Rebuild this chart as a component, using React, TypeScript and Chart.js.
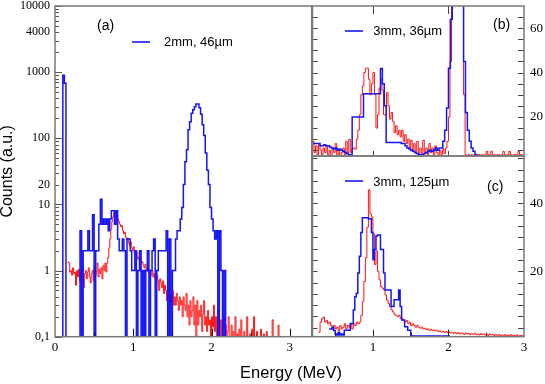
import React, { useEffect, useRef } from 'react';
import { Chart, registerables } from 'chart.js';

Chart.register(...registerables);

const SERIF = '"Liberation Serif", "Times New Roman", serif';
const SANS = '"Liberation Sans", Arial, Helvetica, sans-serif';
const BLUE = 'rgb(20,20,250)';
const RED = 'rgb(255,20,20)';

// ---------------- Panel (a): 2mm, 46µm (log scale) ----------------
const A_BLUE_START = 0;
const A_BLUE_BIN = 0.02;
const aBlue = [
  0, 0, 0, 0, 0, 900, 680, 0, 0, 0,
  0, 0, 0, 0, 0, 0, 4, 0, 2, 2,
  2, 4, 2, 2, 7, 0, 2, 2, 5, 12,
  5, 6, 5, 6, 4, 6, 8, 8, 5, 8,
  3, 2, 2, 3, 2, 0, 3, 3, 2, 1,
  1, 2, 0, 1, 2, 0, 1, 0, 1, 2,
  0, 1, 2, 3, 0, 1, 2, 2, 2, 2,
  2, 4, 0, 3, 0, 1, 1, 3, 4, 4,
  6, 9, 20, 44, 67, 134, 178, 240, 270, 300,
  331, 331, 290, 230, 160, 110, 60, 33, 20, 9,
  6, 4, 3, 4, 0, 4, 1, 0, 1, 0,
];
const A_RED_START = 0.1625;
const A_RED_BIN = 0.0125;
const aRed = [
  1.35, 1.3, 0.95, 1.0, 0.85, 1.1, 0.9, 0.95, 0.6, 1.0,
  0.8, 1.05, 0.7, 0.95, 1.2, 0.85, 0.55, 0.9, 1.0, 0.75,
  0.95, 1.1, 0.8, 0.65, 0.9, 1.0, 0.7, 1.15, 0.85, 0.95,
  1.3, 0.8, 1.05, 0.9, 1.1, 0.75, 1.2, 1.0, 1.3, 0.95,
  1.3, 1.6, 2.2, 3.0, 4.2, 5.5, 6.5, 7.5, 7.8, 7.6,
  7.0, 6.0, 5.5, 5.0, 4.6, 4.8, 4.0, 3.6, 3.8, 3.2,
  2.9, 3.1, 2.6, 2.4, 2.7, 2.2, 2.0, 2.3, 1.8, 1.7,
  1.9, 1.5, 1.6, 1.4, 1.5, 1.3, 1.35, 1.2, 1.1, 1.25,
  1.0, 1.1, 0.95, 1.05, 0.9, 0.85, 1.0, 0.8, 0.9, 0.75,
  0.6, 0.85, 0.7, 0.5, 0.75, 0.65, 0.55, 0.7, 0.45, 0.6,
  0.5, 0.35, 0.55, 0.4, 0.3, 0.45, 0.35, 0.5, 0.3, 0.4,
  0.3, 0.45, 0.35, 0.25, 0.4, 0.3, 0.35, 0.2, 0.4, 0.3,
  0.25, 0.45, 0.2, 0.3, 0.15, 0.35, 0.2, 0.25, 0.4, 0.15,
  0.3, 0, 0.35, 0.15, 0.25, 0.2, 0.3, 0.12, 0.22, 0.35,
  0.15, 0.2, 0.12, 0.25, 0.15, 0.18, 0, 0.2, 0.14, 0.3,
  0.12, 0.2, 0, 0.25, 0.15, 0, 0.18, 0, 0.13, 0.2,
  0, 0.15, 0, 0.12, 0.2, 0, 0, 0.15, 0, 0.12,
  0, 0.2, 0, 0.11, 0, 0.13, 0, 0.18, 0, 0,
  0.12, 0, 0, 0.2, 0, 0, 0.11, 0, 0.13, 0,
  0.2, 0, 0, 0.12, 0, 0, 0, 0.13, 0, 0,
  0.11, 0, 0, 0.12, 0, 0, 0, 0, 0, 0.18,
  0, 0, 0, 0, 0, 0.15, 0, 0, 0, 0,
];
const A_ZERO = 0.05; // empty bins fall below the 0,1 floor
const aXTicks = [0, 1, 2, 3];
const aYTicks = [0.1, 1, 10, 20, 100, 1000, 4000, 10000];
const aYLabels = ['0,1', '1', '10', '20', '100', '1000', '4000', '10000'];

// ---------------- Panel (b): 3mm, 36µm ----------------
const B_BLUE_START = 0.2;
const B_BLUE_BIN = 0.025;
const bBlue = [
  8, 8, 8, 8, 7, 7, 7.5, 7, 7, 6.5,
  6, 5.5, 6, 5, 5.5, 5, 4.5, 4, 3.5, 3,
  3, 20, 20, 20, 20, 20, 20, 30.5, 30.5, 30.5,
  30.5, 30.5, 30.5, 30.5, 30.5, 30.5, 41.8, 35, 25, 8.5,
  8.5, 8.5, 8.5, 8.5, 8.5, 8.5, 8.5, 8, 8, 7,
  6, 5.5, 5, 4.5, 4, 3.5, 3, 3, 3, 3.5,
  4, 4.5, 5, 4.5, 5, 6, 5, 6, 6, 9,
  14, 24, 42, 64, 110, 150, 170, 160, 140, 95,
  45, 22, 14, 9, 6, 4.5, 3, 2.5, 2, 2,
];
const B_RED_START = 0.2;
const B_RED_BIN = 0.02;
const bRed = [
  9, 4, 7, 3, 8, 5, 3, 6, 4, 7,
  3, 5, 2.5, 6, 4, 8, 3, 5, 2.5, 4,
  6, 3, 9, 4, 10, 4, 5.5, 6, 5.5, 10,
  14, 21, 30, 34, 40, 42, 42, 37, 30, 35,
  40, 30, 15, 21, 33, 37, 32, 21, 21, 31,
  25, 19, 22, 18, 13, 16, 12, 14, 11, 14,
  9, 12, 8, 10, 6, 9.5, 5, 8, 4.5, 9,
  3.5, 6, 3, 9.5, 4, 6, 3, 8, 4, 6,
  3, 7, 4, 3, 5, 3, 5.5, 3.5, 6, 9,
  20, 45, 90, 140, 170, 170, 150, 120, 100, 80,
  30, 3, 2.5, 3, 2, 3, 2.5, 3, 2, 3,
  3, 2, 3, 2.5, 3, 4.5, 3, 2, 4.5, 3,
  3, 2, 3, 3, 2, 3, 4.5, 3, 2, 3,
  4.5, 3, 2, 3, 3, 2, 4.5, 3, 3, 2,
];
const bYTicks = [20, 40, 60];

// ---------------- Panel (c): 3mm, 125µm ----------------
const C_BLUE_START = 0.42;
const C_BLUE_BIN = 0.02;
const cBlue = [
  3, 3, 3.5, 2.5,
  1.5, 1.2, 2, 1.2, 1.5, 1.2, 2.6, 2.6, 2.6, 2.6,
  4.6, 4.6, 8.6, 12.5, 13.5, 19.5, 24.4, 31.4, 35.8, 35.8,
  35.8, 35.8, 35.5, 35.5, 31.4, 23.4, 26.4, 30.4, 30.7, 30.7,
  26.4, 26.4, 19.5, 14.5, 14.5, 14.5, 14.5, 9.6, 9.6, 11.6,
  11.6, 11.6, 14.5, 9.6, 5.6, 5.6, 3.6, 3.6, 2.6, 2.6,
  0.9, 0.9, 0.9, 0.9, 0.9, 0.9, 0.9, 0.9, 0.9, 0.9,
  0.9, 0.9, 0.9, 0.9, 0.9, 0.9, 0.9, 0.9, 0.9, 0.9,
  0.9, 0.9, 0.9, 0.9, 0.9, 0.9,
];
const C_RED_START = 0.28;
const C_RED_BIN = 0.02;
const cRed = [
  2,
  5, 6, 6.5, 5, 5.5,
  4.5, 5, 4, 3.5, 4,
  3, 3.5, 2.5, 4, 3,
  3.5, 4.5, 3, 4, 3.5,
  4.5, 3, 4.5, 4, 5,
  4.5, 5, 7, 11, 17,
  24, 33, 44, 37, 36,
  31, 22, 26, 20, 17.5,
  15.5, 15, 14.5, 13, 11.5,
  10.5, 9.5, 8.6, 8, 7.2,
  7, 6.6, 7, 6.1, 6,
  5.5, 5, 5.5, 4.6, 5,
  4, 4.5, 4, 3.5, 4,
  3.5, 3.2, 3.5, 3, 3.2,
  2.8, 3, 2.6, 2.9, 2.5,
  2.7, 2.4, 2.6, 2.2, 2.4,
  2.1, 2.3, 2.0, 2.2, 1.9,
  2.1, 1.8, 2.0, 1.7, 1.9,
  1.6, 1.9, 1.5, 1.8, 1.6,
  1.4, 1.8, 1.5, 1.7, 1.3,
  1.6, 1.4, 1.7, 1.3, 1.5,
  1.2, 1.6, 1.3, 1.5, 1.2,
  1.4, 1.1, 1.5, 1.2, 1.4,
  1.0, 1.3, 1.1, 1.4, 1.0,
  1.2, 0.9, 1.3, 1.0, 1.2,
  0.9, 1.3, 1.0, 1.1, 0.9,
  1.2, 0.8, 1.1, 1.0, 1.1,
];
const cXTicks = [1, 2, 3];
const cYTicks = [20, 40];

// ---------------- axis decoration (tick marks) ----------------
const aLogMajor = [0.1, 1, 10, 100, 1000, 10000];
const aLogMinor: number[] = [];
[0.1, 1, 10, 100, 1000].forEach((d) => { for (let k = 2; k <= 9; k++) aLogMinor.push(d * k); });
const aXMajor = [1, 2, 3];
const aXMinor = [0.5, 1.5, 2.5];
const bYMinor: number[] = [];
for (let v = 5; v <= 65; v += 5) bYMinor.push(v);
const cYMinor: number[] = [];
for (let k = 1; k <= 16; k++) cYMinor.push((k * 10) / 3);

function toHist(start: number, bin: number, vals: number[], zero: number) {
  const pts = vals.map((v, i) => ({ x: start + i * bin, y: v > 0 ? v : zero }));
  pts.push({ x: start + vals.length * bin, y: pts[pts.length - 1].y });
  return pts;
}

type TickSpec = { scale: 'x' | 'y'; side: 'left' | 'right' | 'top' | 'bottom'; values: number[]; len: number; color: string };

function framePlugin(specs: TickSpec[]) {
  return {
    id: 'frameTicks',
    afterDatasetsDraw(chart: any) {
      const { ctx, chartArea } = chart;
      const { left, right, top, bottom } = chartArea;
      ctx.save();
      ctx.lineWidth = 1;
      for (const s of specs) {
        const sc = chart.scales[s.scale];
        ctx.strokeStyle = s.color;
        ctx.beginPath();
        for (const v of s.values) {
          const p = Math.round(sc.getPixelForValue(v)) + 0.5;
          if (s.side === 'left') { ctx.moveTo(left, p); ctx.lineTo(left + s.len, p); }
          if (s.side === 'right') { ctx.moveTo(right, p); ctx.lineTo(right - s.len, p); }
          if (s.side === 'top') { ctx.moveTo(p, top); ctx.lineTo(p, top + s.len); }
          if (s.side === 'bottom') { ctx.moveTo(p, bottom); ctx.lineTo(p, bottom - s.len); }
        }
        ctx.stroke();
      }
      ctx.lineWidth = 1.5;
      ctx.strokeStyle = '#7a7a7a';
      ctx.strokeRect(left, top, right - left, bottom - top);
      ctx.restore();
    },
  };
}

const tickFont = (size: number) => ({ family: SERIF, size });

function lineDs(data: any[], color: string, width: number) {
  return {
    data,
    borderColor: color,
    borderWidth: width,
    stepped: true as const,
    pointRadius: 0,
    fill: false,
    tension: 0,
  };
}

function baseOptions(padding: any) {
  return {
    responsive: false,
    animation: false as const,
    events: [] as any[],
    layout: { autoPadding: false, padding },
    plugins: { legend: { display: false }, tooltip: { enabled: false } },
  };
}

function zeroPad(s: any) {
  s.paddingTop = 0; s.paddingBottom = 0; s.paddingLeft = 0; s.paddingRight = 0;
}

function configA(): any {
  return {
    type: 'line',
    data: {
      datasets: [
        lineDs(toHist(A_BLUE_START, A_BLUE_BIN, aBlue, A_ZERO), BLUE, 1.5),
        lineDs(toHist(A_RED_START, A_RED_BIN, aRed, A_ZERO), RED, 1),
      ],
    },
    options: {
      ...baseOptions({ left: 0, top: 6, right: 233.3, bottom: 0 }),
      scales: {
        x: {
          type: 'linear', min: 0, max: 3.28,
          afterBuildTicks: (s: any) => { s.ticks = aXTicks.map((v) => ({ value: v })); },
          afterFit: (s: any) => { s.height = 47.3; zeroPad(s); },
          grid: { display: false, drawTicks: false },
          border: { display: false },
          ticks: { font: tickFont(13), color: '#000', padding: 3, maxRotation: 0, autoSkip: false, callback: (v: any) => String(v) },
        },
        y: {
          type: 'logarithmic', min: 0.1, max: 10000,
          afterBuildTicks: (s: any) => { s.ticks = aYTicks.map((v) => ({ value: v })); },
          afterFit: (s: any) => { s.width = 55; zeroPad(s); },
          grid: { display: false, drawTicks: false },
          border: { display: false },
          ticks: { font: tickFont(12), color: '#000', padding: 5, autoSkip: false, callback: (_v: any, i: number) => aYLabels[i] },
          title: { display: true, text: 'Counts (a.u.)', color: '#000', font: { family: SANS, size: 16, lineHeight: 1 }, padding: 0 },
        },
      },
    },
    plugins: [framePlugin([
      { scale: 'y', side: 'left', values: aLogMajor, len: 7, color: '#555' },
      { scale: 'y', side: 'left', values: aLogMinor, len: 4, color: '#555' },
      { scale: 'x', side: 'bottom', values: aXMajor, len: 8, color: '#111' },
      { scale: 'x', side: 'bottom', values: aXMinor, len: 4, color: '#111' },
    ])],
  };
}

function configB(): any {
  return {
    type: 'line',
    data: {
      datasets: [
        lineDs(toHist(B_BLUE_START, B_BLUE_BIN, bBlue, 0), BLUE, 1.5),
        lineDs(toHist(B_RED_START, B_RED_BIN, bRed, 0), RED, 1),
      ],
    },
    options: {
      ...baseOptions({ left: 312.5, top: 6, right: 0, bottom: 228 }),
      scales: {
        x: { type: 'linear', min: 0.2, max: 3.0, display: false },
        y: {
          type: 'linear', position: 'right', min: 2.4, max: 70,
          afterBuildTicks: (s: any) => { s.ticks = bYTicks.map((v) => ({ value: v })); },
          afterFit: (s: any) => { s.width = 21; zeroPad(s); },
          grid: { display: false, drawTicks: false },
          border: { display: false },
          ticks: { font: tickFont(13), color: '#000', padding: 6, autoSkip: false },
        },
      },
    },
    plugins: [framePlugin([
      { scale: 'y', side: 'left', values: bYMinor, len: 5, color: '#444' },
      { scale: 'y', side: 'right', values: bYMinor, len: 6, color: '#444' },
      { scale: 'x', side: 'top', values: [1, 2], len: 8, color: '#444' },
      { scale: 'x', side: 'bottom', values: [1, 2], len: 5, color: '#444' },
    ])],
  };
}

function configC(): any {
  return {
    type: 'line',
    data: {
      datasets: [
        lineDs(toHist(C_BLUE_START, C_BLUE_BIN, cBlue, 0), BLUE, 1.5),
        lineDs(toHist(C_RED_START, C_RED_BIN, cRed, 0), RED, 1),
      ],
    },
    options: {
      ...baseOptions({ left: 312.5, top: 156, right: 0, bottom: 0 }),
      scales: {
        x: {
          type: 'linear', min: 0.2, max: 3.0,
          afterBuildTicks: (s: any) => { s.ticks = cXTicks.map((v) => ({ value: v })); },
          afterFit: (s: any) => { s.height = 47.3; zeroPad(s); },
          grid: { display: false, drawTicks: false },
          border: { display: false },
          ticks: { font: tickFont(13), color: '#000', padding: 3, maxRotation: 0, autoSkip: false, callback: (v: any) => String(v) },
        },
        y: {
          type: 'linear', position: 'right', min: 0.7, max: 54,
          afterBuildTicks: (s: any) => { s.ticks = cYTicks.map((v) => ({ value: v })); },
          afterFit: (s: any) => { s.width = 21; zeroPad(s); },
          grid: { display: false, drawTicks: false },
          border: { display: false },
          ticks: { font: tickFont(13), color: '#000', padding: 6, autoSkip: false },
        },
      },
    },
    plugins: [framePlugin([
      { scale: 'y', side: 'left', values: cYMinor, len: 5, color: '#444' },
      { scale: 'y', side: 'right', values: cYMinor, len: 6, color: '#444' },
      { scale: 'x', side: 'bottom', values: [1, 2], len: 7, color: '#222' },
      { scale: 'x', side: 'bottom', values: [0.5, 1.5, 2.5], len: 4, color: '#222' },
    ])],
  };
}

const canvasStyle: React.CSSProperties = { position: 'absolute', left: 0, top: 0 };

function Txt(props: { x: number; y: number; size: number; children: React.ReactNode }) {
  return (
    <div style={{ position: 'absolute', left: props.x, top: props.y, fontSize: props.size, lineHeight: `${props.size}px`, whiteSpace: 'nowrap', color: '#000', fontFamily: SANS }}>
      {props.children}
    </div>
  );
}

function Swatch(props: { x: number; y: number }) {
  return <div style={{ position: 'absolute', left: props.x, top: props.y, width: 18, height: 2, background: 'rgb(70,70,255)' }} />;
}

export default function App() {
  const aRef = useRef<HTMLCanvasElement>(null);
  const bRef = useRef<HTMLCanvasElement>(null);
  const cRef = useRef<HTMLCanvasElement>(null);

  useEffect(() => {
    const charts = [
      new Chart(aRef.current as HTMLCanvasElement, configA()),
      new Chart(bRef.current as HTMLCanvasElement, configB()),
      new Chart(cRef.current as HTMLCanvasElement, configC()),
    ];
    return () => charts.forEach((c) => c.destroy());
  }, []);

  return (
    <div style={{ position: 'fixed', left: 0, top: 0, width: 545, height: 384, background: '#fff', overflow: 'hidden' }}>
      <canvas ref={aRef} width={545} height={384} style={canvasStyle} />
      <canvas ref={bRef} width={545} height={384} style={canvasStyle} />
      <canvas ref={cRef} width={545} height={384} style={canvasStyle} />
      <Txt x={97} y={18.3} size={14}>(a)</Txt>
      <Swatch x={132} y={41} />
      <Txt x={164} y={34.5} size={13}>2mm, 46µm</Txt>
      <Txt x={493} y={16.6} size={14}>(b)</Txt>
      <Swatch x={345} y={30} />
      <Txt x={373.3} y={24} size={13}>3mm, 36µm</Txt>
      <Txt x={487} y={179.3} size={14}>(c)</Txt>
      <Swatch x={345} y={180} />
      <Txt x={373.3} y={174.9} size={13}>3mm, 125µm</Txt>
      <div style={{ position: 'absolute', left: 0, width: 582, top: 363.5, textAlign: 'center', fontSize: 16.5, lineHeight: '16.5px', fontFamily: SANS, color: '#000', whiteSpace: 'nowrap' }}>
        Energy (MeV)
      </div>
    </div>
  );
}
